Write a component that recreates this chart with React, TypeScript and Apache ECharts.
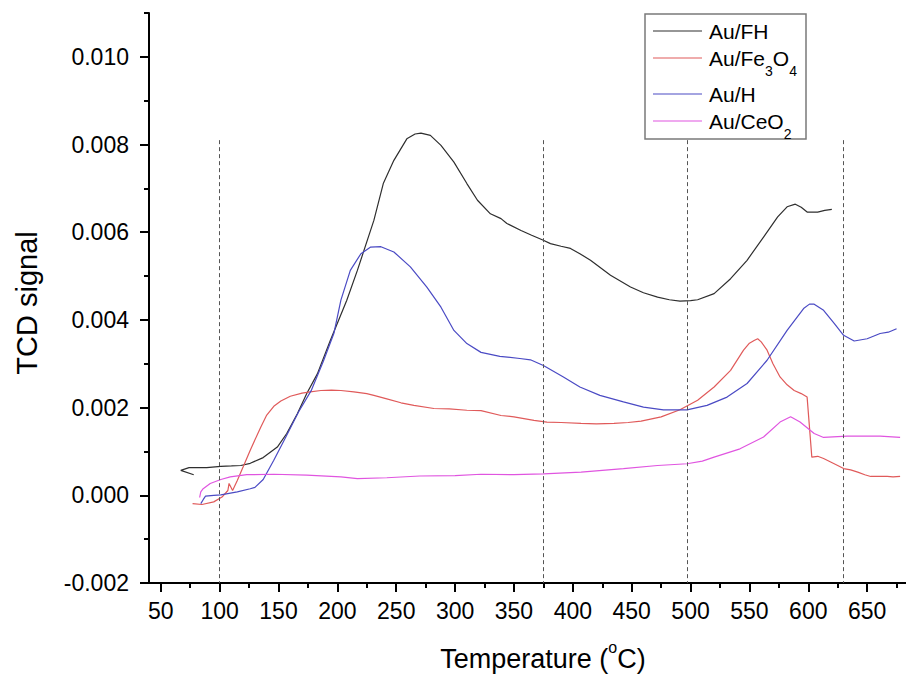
import React, { useEffect, useRef } from "react";
import * as echarts from "echarts";

// ---- data (temperature in °C, TCD signal) ----
const fhData: [number, number][] = [
  [78, 0.00047], [67, 0.00057], [74, 0.00063], [89, 0.00063], [101, 0.00066], [110, 0.00067],
  [118, 0.00068], [126, 0.00073], [137, 0.00086], [149, 0.0011], [157, 0.00141], [166, 0.00186],
  [174, 0.00232], [183, 0.00277], [194, 0.00353], [208, 0.00445], [217, 0.00513], [231, 0.00627],
  [239, 0.00711], [248, 0.00764], [259, 0.00813], [266, 0.00824], [271, 0.00826], [279, 0.00821],
  [288, 0.00798], [299, 0.0076], [310, 0.00711], [319, 0.00673], [330, 0.00642], [339, 0.00631],
  [344, 0.0062], [356, 0.00604], [365, 0.00593], [374, 0.00583], [381, 0.00574], [390, 0.00568],
  [398, 0.00563], [406, 0.00551], [415, 0.00536], [432, 0.00502], [449, 0.00475], [460, 0.00462],
  [472, 0.00452], [482, 0.00446], [491, 0.00443], [500, 0.00444], [506, 0.00446], [520, 0.0046],
  [534, 0.00494], [548, 0.00536], [562, 0.00589], [574, 0.00635], [582, 0.00658], [589, 0.00664],
  [594, 0.00657], [599, 0.00646], [608, 0.00646], [614, 0.0065], [620, 0.00652],
];

const fe3o4Data: [number, number][] = [
  [77, -0.00019], [85, -0.00021], [95, -0.00015], [102, -0.00004], [107, 0.00011], [108, 0.00027],
  [111, 0.00011], [115, 0.00034], [120, 0.00065], [126, 0.00103], [135, 0.00156], [140, 0.00183],
  [146, 0.00203], [152, 0.00215], [160, 0.00226], [170, 0.00233], [177, 0.00236], [186, 0.00239],
  [195, 0.0024], [203, 0.00239], [214, 0.00236], [225, 0.00232], [231, 0.00228], [242, 0.0022],
  [254, 0.00211], [265, 0.00205], [282, 0.00198], [295, 0.00197], [310, 0.00194], [322, 0.00193],
  [339, 0.00182], [350, 0.00179], [367, 0.00171], [378, 0.00167], [390, 0.00166], [407, 0.00164],
  [420, 0.00163], [435, 0.00164], [447, 0.00166], [458, 0.00169], [475, 0.00179], [491, 0.00195],
  [506, 0.00217], [520, 0.00247], [534, 0.00285], [545, 0.00331], [550, 0.00347], [554, 0.00353],
  [557, 0.00357], [560, 0.0035], [565, 0.00331], [570, 0.003], [576, 0.0027], [582, 0.00252],
  [588, 0.00239], [594, 0.00232], [599, 0.00224], [603, 0.00087], [608, 0.00089], [613, 0.00084],
  [619, 0.00076], [625, 0.00068], [630, 0.00061], [636, 0.00058], [642, 0.00053], [648, 0.00047],
  [653, 0.00043], [660, 0.00043], [667, 0.00043], [672, 0.00042], [678, 0.00043],
];

const hData: [number, number][] = [
  [84, -0.00019], [86, -0.0001], [88, -0.00002], [95, 0.0], [101, 0.00001], [115, 0.00008],
  [126, 0.00015], [130, 0.00018], [137, 0.00036], [146, 0.0008], [156, 0.00132], [167, 0.0019],
  [178, 0.0024], [188, 0.00305], [197, 0.00369], [203, 0.00445], [211, 0.00513], [220, 0.00551],
  [228, 0.00566], [237, 0.00567], [248, 0.00555], [262, 0.00521], [276, 0.00475], [288, 0.00429],
  [299, 0.00376], [310, 0.00346], [322, 0.00326], [338, 0.00317], [355, 0.00312], [364, 0.00309],
  [375, 0.00296], [392, 0.0027], [406, 0.00247], [423, 0.00228], [443, 0.00213], [460, 0.00201],
  [477, 0.00195], [497, 0.00195], [514, 0.00205], [531, 0.00224], [548, 0.00255], [565, 0.00308],
  [582, 0.00376], [596, 0.00426], [601, 0.00436], [605, 0.00436], [613, 0.00422], [622, 0.00392],
  [630, 0.00365], [639, 0.00352], [650, 0.00357], [661, 0.00369], [668, 0.00372], [675, 0.0038],
];

const ceo2Data: [number, number][] = [
  [83, -0.00005], [84, 0.00008], [86, 0.00015], [92, 0.00027], [101, 0.00036], [109, 0.00042],
  [123, 0.00047], [146, 0.00048], [174, 0.00046], [203, 0.00042], [217, 0.00038], [242, 0.0004],
  [270, 0.00044], [300, 0.00045], [322, 0.00048], [350, 0.00047], [375, 0.00049], [407, 0.00053],
  [443, 0.00061], [472, 0.00068], [497, 0.00072], [510, 0.00078], [520, 0.00087], [542, 0.00106],
  [562, 0.00133], [576, 0.00167], [585, 0.00179], [593, 0.00167], [605, 0.00141], [613, 0.00132],
  [633, 0.00135], [661, 0.00135], [678, 0.00132],
];

const seriesNames = ["Au/FH", "Au/Fe3O4", "Au/H", "Au/CeO2"];
const legendLabels = ["Au/FH", "Au/Fe{s|3}O{s|4}", "Au/H", "Au/CeO{s|2}"];
const seriesColors = ["#2e2e2e", "#e05a5a", "#4a4ac4", "#e055e0"];

const markerTemps = [100, 375, 497, 630];
const markerTop = 0.0081;

const xMajorTicks = [50, 100, 150, 200, 250, 300, 350, 400, 450, 500, 550, 600, 650];
const xMinorTicks = [75, 125, 175, 225, 275, 325, 375, 425, 475, 525, 575, 625, 675];
const yMajorTicks = [-0.002, 0, 0.002, 0.004, 0.006, 0.008, 0.01];
const yMinorTicks = [-0.001, 0.001, 0.003, 0.005, 0.007, 0.009, 0.011];

const X_MIN = 40;
const X_MAX = 683;
const Y_MIN = -0.002;
const Y_MAX = 0.011;

const FONT = "'Liberation Sans', Arial, Helvetica, sans-serif";

export default function App() {
  const ref = useRef<HTMLDivElement>(null);

  useEffect(() => {
    if (!ref.current) return;
    document.body.style.margin = "0";
    const chart = echarts.init(ref.current, null, { renderer: "svg" });
    const allData = [fhData, fe3o4Data, hData, ceo2Data];

    const legendRowsY = [31, 58, 94, 121];
    const legendGraphics: any[] = [
      {
        type: "rect",
        shape: { x: 645, y: 14, width: 161, height: 125 },
        style: { fill: "#fff", stroke: "#7a7a7a", lineWidth: 1.5 },
        z: 10,
      },
    ];
    legendLabels.forEach((lab, i) => {
      legendGraphics.push({
        type: "line",
        shape: { x1: 653, y1: legendRowsY[i], x2: 702, y2: legendRowsY[i] },
        style: { stroke: seriesColors[i], lineWidth: 1.2 },
        z: 11,
      });
      const hasSub = lab.indexOf("{s|") >= 0;
      legendGraphics.push({
        type: "text",
        x: 709,
        y: hasSub ? legendRowsY[i] - 20 : legendRowsY[i],
        z: 11,
        style: {
          text: hasSub ? "{b|" + lab.replace(/\{s\|(\d)\}/g, "}{s|$1}{b|") + "}" : lab,
          fontFamily: FONT,
          fontSize: 21,
          fill: "#000",
          align: "left",
          verticalAlign: hasSub ? "top" : "middle",
          rich: {
            b: { fontSize: 21, lineHeight: 40, verticalAlign: "middle", fill: "#000", fontFamily: FONT },
            s: { fontSize: 14, lineHeight: 14, verticalAlign: "bottom", fill: "#000", fontFamily: FONT },
          },
        },
      });
    });

    const option: any = {
      animation: false,
      backgroundColor: "#ffffff",
      grid: { left: 149, right: 0, top: 13, bottom: 93, outerBoundsMode: "none", containLabel: false },
      tooltip: { show: false },
      xAxis: [
        {
          type: "value",
          min: X_MIN,
          max: X_MAX,
          position: "bottom",
          axisLine: { show: true, onZero: false, lineStyle: { color: "#000", width: 2 } },
          axisTick: {
            show: true,
            customValues: xMajorTicks,
            length: 9,
            inside: false,
            lineStyle: { color: "#000", width: 2 },
          },
          axisLabel: {
            customValues: xMajorTicks,
            fontSize: 23,
            fontFamily: FONT,
            color: "#000",
            margin: 16,
          },
          splitLine: { show: false },
        },
        {
          type: "value",
          min: X_MIN,
          max: X_MAX,
          position: "bottom",
          offset: 0,
          axisLine: { show: false, onZero: false },
          axisTick: {
            show: true,
            customValues: xMinorTicks,
            length: 5,
            inside: false,
            lineStyle: { color: "#000", width: 2 },
          },
          axisLabel: { show: false },
          splitLine: { show: false },
        },
      ],
      yAxis: [
        {
          type: "value",
          min: Y_MIN,
          max: Y_MAX,
          position: "left",
          axisLine: { show: true, onZero: false, lineStyle: { color: "#000", width: 2 } },
          axisTick: {
            show: true,
            customValues: yMajorTicks,
            length: 9,
            inside: false,
            lineStyle: { color: "#000", width: 2 },
          },
          axisLabel: {
            customValues: yMajorTicks,
            fontSize: 23,
            fontFamily: FONT,
            color: "#000",
            margin: 20,
            formatter: (v: number) => v.toFixed(3),
          },
          splitLine: { show: false },
        },
        {
          type: "value",
          min: Y_MIN,
          max: Y_MAX,
          position: "left",
          offset: 0,
          axisLine: { show: false, onZero: false },
          axisTick: {
            show: true,
            customValues: yMinorTicks,
            length: 5,
            inside: false,
            lineStyle: { color: "#000", width: 2 },
          },
          axisLabel: { show: false },
          splitLine: { show: false },
        },
      ],
      series: allData.map((d, i) => ({
        name: seriesNames[i],
        type: "line",
        data: d,
        xAxisIndex: 0,
        yAxisIndex: 0,
        showSymbol: false,
        symbol: "none",
        silent: true,
        lineStyle: { color: seriesColors[i], width: 1.2 },
        itemStyle: { color: seriesColors[i] },
        z: 3,
        ...(i === 0
          ? {
              markLine: {
                silent: true,
                symbol: ["none", "none"],
                label: { show: false },
                lineStyle: { color: "#555", type: [4, 3], width: 1 },
                data: markerTemps.map((t) => [
                  { coord: [t, markerTop] },
                  { coord: [t, Y_MIN] },
                ]),
              },
            }
          : {}),
      })),
      graphic: [
        ...legendGraphics,
        {
          type: "text",
          x: 543,
          y: 659,
          style: {
            text: "{b|Temperature (}{p|o}{b|C)}",
            align: "center",
            verticalAlign: "middle",
            fontFamily: FONT,
            fontSize: 27,
            fill: "#000",
            rich: {
              b: { fontSize: 27, lineHeight: 40, verticalAlign: "middle", fill: "#000", fontFamily: FONT },
              p: { fontSize: 16, lineHeight: 16, verticalAlign: "top", fill: "#000", fontFamily: FONT },
            },
          },
        },
        {
          type: "text",
          x: 27,
          y: 303,
          rotation: Math.PI / 2,
          style: {
            text: "TCD signal",
            align: "center",
            verticalAlign: "middle",
            fontFamily: FONT,
            fontSize: 29,
            fill: "#000",
          },
        },
      ],
    };

    chart.setOption(option);
    return () => chart.dispose();
  }, []);

  return <div ref={ref} style={{ width: 906, height: 676, background: "#fff" }} />;
}
